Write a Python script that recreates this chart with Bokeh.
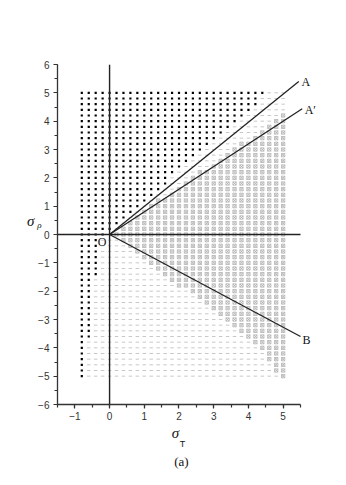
from bokeh.plotting import figure
from bokeh.models import Span, Label, SingleIntervalTicker, FixedTicker, LinearAxis
from bokeh.embed import file_html
from bokeh.resources import INLINE

# grid of sample points
grid_x = [-0.8, -0.6, -0.4, -0.2, 0.0, 0.2, 0.4, 0.6, 0.8, 1.0, 1.2, 1.4, 1.6, 1.8, 2.0,
          2.2, 2.4, 2.6, 2.8, 3.0, 3.2, 3.4, 3.6, 3.8, 4.0, 4.2, 4.4, 4.6, 4.8, 5.0]
grid_y = [5.0, 4.8, 4.6, 4.4, 4.2, 4.0, 3.8, 3.6, 3.4, 3.2, 3.0, 2.8, 2.6, 2.4, 2.2, 2.0,
          1.8, 1.6, 1.4, 1.2, 1.0, 0.8, 0.6, 0.4, 0.2, 0.0, -0.2, -0.4, -0.6, -0.8, -1.0,
          -1.2, -1.4, -1.6, -1.8, -2.0, -2.2, -2.4, -2.6, -2.8, -3.0, -3.2, -3.4, -3.6,
          -3.8, -4.0, -4.2, -4.4, -4.6, -4.8, -5.0]
# per row: largest x of the black-dot region
black_xmax = [4.4, 4.2, 4.2, 4.0, 3.8, 3.6, 3.4, 3.2, 3.0, 2.8, 2.6, 2.4, 2.2, 2.0, 1.8, 1.6,
              1.6, 1.4, 1.2, 1.0, 0.8, 0.6, 0.4, 0.2, 0.0, -0.2, -0.4, -0.4, -0.4, -0.4, -0.4,
              -0.4, -0.4, -0.6, -0.6, -0.6, -0.6, -0.6, -0.6, -0.6, -0.6, -0.6, -0.6, -0.6,
              -0.8, -0.8, -0.8, -0.8, -0.8, -0.8, -0.8]
# per row: smallest x of the cross-marked region (9 = none)
cross_xmin = [9, 9, 9, 9, 5.0, 4.8, 4.6, 4.4, 4.2, 3.8, 3.6, 3.4, 3.2, 3.0, 2.6, 2.4,
              2.2, 2.0, 1.8, 1.4, 1.2, 1.0, 0.8, 0.6, 0.4, 0.2, 0.4, 0.6, 0.8, 1.0, 1.2,
              1.4, 1.6, 1.8, 2.0, 2.4, 2.6, 2.8, 3.0, 3.2, 3.4, 3.6, 3.8, 4.0,
              4.2, 4.4, 4.6, 4.6, 4.8, 4.8, 5.0]

# boundary lines from O
line_names = ["A", "A′", "B"]
line_end_x = [5.45, 5.55, 5.5]
line_end_y = [5.40, 4.44, -3.6]

# axis extents
x_axis_bounds = (-1.5, 5.5)
y_axis_bounds = (-6, 6)

bx, by, dx, dy, cx, cy = [], [], [], [], [], []
for yv, bmax, cmin in zip(grid_y, black_xmax, cross_xmin):
    for xv in grid_x:
        if xv <= bmax + 1e-9:
            bx.append(xv); by.append(yv)
        elif xv >= cmin - 1e-9:
            cx.append(xv); cy.append(yv)
        else:
            dx.append(xv); dy.append(yv)

PX = 34.714  # px per x unit
p = figure(width=335, height=476,
           x_range=(x_axis_bounds[0], x_axis_bounds[0] + 273 / PX), y_range=y_axis_bounds,
           output_backend="svg", toolbar_location=None,
           min_border_left=57, min_border_right=5, min_border_top=64, min_border_bottom=72)
p.outline_line_color = None
p.grid.grid_line_color = None
p.background_fill_color = "white"

for ax in (p.xaxis[0], p.yaxis[0]):
    ax.ticker = SingleIntervalTicker(interval=1, num_minor_ticks=2)
    ax.axis_line_color = "#333333"
    ax.axis_line_width = 1.3
    ax.major_tick_line_color = "#333333"
    ax.minor_tick_line_color = "#333333"
    ax.major_tick_line_width = 1.2
    ax.minor_tick_line_width = 1.2
    ax.major_tick_out = 4
    ax.major_tick_in = 0
    ax.minor_tick_out = 3
    ax.minor_tick_in = 0
    ax.major_label_text_font = "Liberation Sans"
    ax.major_label_text_font_size = "10px"
    ax.major_label_text_color = "#333333"
p.yaxis.major_label_standoff = 4
p.xaxis.major_label_standoff = 3
p.xaxis.bounds = x_axis_bounds

p.scatter(dx, dy, marker="dash", size=3.5, line_color="#c8c8c8", line_width=1)
p.scatter(cx, cy, marker="square_x", size=3.3, line_color="#b0b0b0", fill_color=None,
          line_width=0.8)
p.scatter(bx, by, marker="square", size=2.2, line_color=None, fill_color="black")

p.add_layout(Span(location=0, dimension="height", line_color="#222222", line_width=1.4))
p.line(list(x_axis_bounds), [0, 0], line_color="#222222", line_width=1.4)

for ex, ey in zip(line_end_x, line_end_y):
    p.line([0, ex], [0, ey], line_color="#222222", line_width=1.3)

serif = "Liberation Serif"
def lab(x, y, t, size="12px", style="normal", align="left", font=serif):
    p.add_layout(Label(x=x, y=y, text=t, text_font=font, text_font_size=size,
                       text_font_style=style, text_align=align, text_baseline="middle",
                       text_color="#111111"))

lab(5.53, 5.40, line_names[0])
lab(5.62, 4.41, line_names[1])
lab(5.56, -3.71, line_names[2])
lab(-0.09, -0.25, "O", align="right")

# axis titles and caption, as label-only axes stacked outside the frame
def text_axis(side, tick, text, font, size, style, standoff):
    ax = LinearAxis(ticker=FixedTicker(ticks=[tick]), major_label_overrides={tick: text},
                    axis_line_color=None, major_tick_line_color=None,
                    minor_tick_line_color=None, major_tick_out=0, minor_tick_out=0,
                    major_tick_in=0, minor_tick_in=0,
                    major_label_text_font=font, major_label_text_font_size=size,
                    major_label_text_font_style=style, major_label_standoff=standoff,
                    major_label_text_color="#111111")
    p.add_layout(ax, side)

text_axis("left", 0.32, "ρ", serif, "9px", "italic", -6)
text_axis("left", 0.46, "σ", serif, "15px", "italic", 0)
text_axis("below", 1.90, "σ", serif, "15px", "italic", 2)
text_axis("below", 2.10, "T", "Liberation Sans", "9px", "normal", -5)
text_axis("below", 2.07, "(a)", serif, "13px", "normal", 2)

open("out.html", "w").write(file_html(p, INLINE))
